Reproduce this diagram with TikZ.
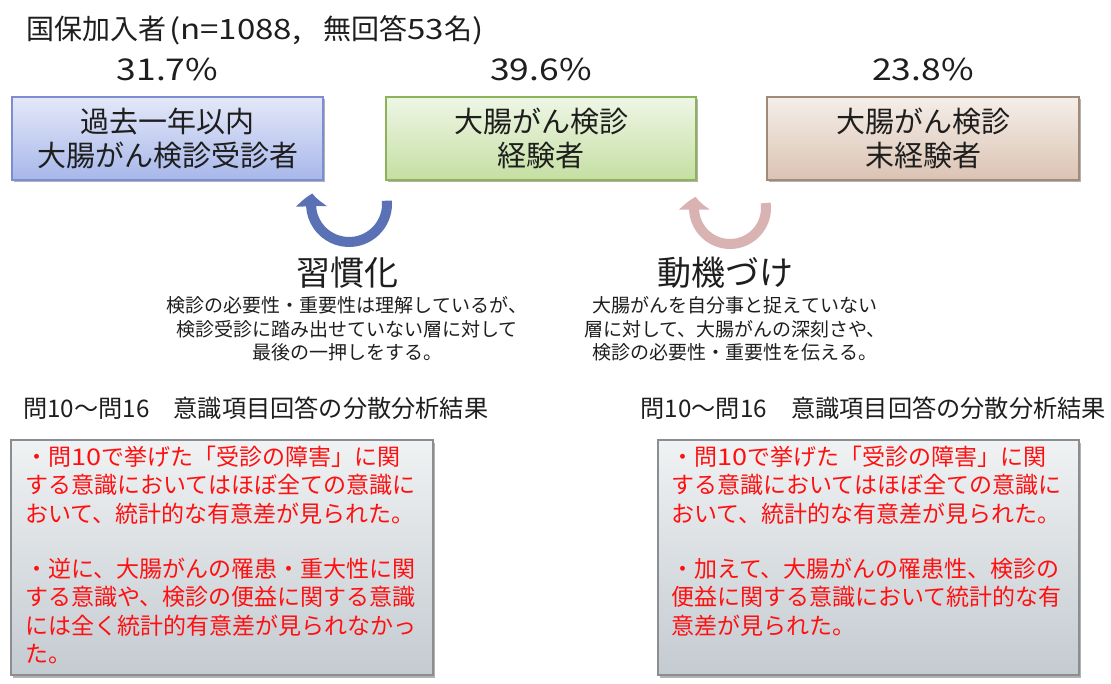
\documentclass[tikz,border=0pt]{standalone}
\usepackage{fontspec}
\setmainfont{Noto Sans CJK JP}
\newfontfamily\widefont[FakeStretch=1.18]{Noto Sans CJK JP}
\usetikzlibrary{arrows.meta,bending,shadows,calc}
\definecolor{ink}{HTML}{1E1E1E}
\definecolor{aT}{HTML}{E4E8F8}
\definecolor{aB}{HTML}{A7B7EA}
\definecolor{aD}{HTML}{7C8ED0}
\definecolor{bT}{HTML}{EEF6E6}
\definecolor{bB}{HTML}{C5DFA2}
\definecolor{bD}{HTML}{8DB35A}
\definecolor{cT}{HTML}{F5EEE9}
\definecolor{cB}{HTML}{DBC3B3}
\definecolor{cD}{HTML}{A08A7A}
\definecolor{gT}{HTML}{F0F2F3}
\definecolor{gB}{HTML}{C4CBD1}
\definecolor{gD}{HTML}{8A8E91}
\definecolor{arB}{HTML}{5A72B5}
\definecolor{arP}{HTML}{D9B2B2}
\definecolor{redt}{HTML}{FF1010}
\begin{document}
\begin{tikzpicture}[x=1pt,y=-1pt,
  shadowed/.style={drop shadow={shadow xshift=2pt,shadow yshift=-2.5pt,opacity=0.3,fill=black}},
  catbox/.style={draw,line width=1.3pt,minimum height=83pt,align=center,inner sep=0pt,
    font=\fontsize{29}{34}\selectfont,text=ink,shadowed},
  pct/.style={font=\widefont\fontsize{30}{34}\selectfont,text=ink,inner sep=0pt},
  ttl/.style={font=\fontsize{34}{38}\selectfont,text=ink,inner sep=0pt},
  desc/.style={font=\fontsize{19}{23.5}\selectfont,text=ink,align=center,inner sep=0pt},
  hdr/.style={font=\fontsize{24.2}{28}\selectfont,text=ink,inner sep=0pt},
  resbox/.style={draw=gD,line width=1.3pt,top color=gT,bottom color=gB,minimum height=235pt,inner sep=0pt,shadowed},
  redtext/.style={font=\fontsize{23}{28.3}\selectfont,text=redt,align=left,inner sep=0pt},
  curvarrow/.style={line width=10pt,-{Triangle[width=30pt,length=13pt,bend]}}
]
\useasboundingbox (0,0) rectangle (1111,684);

% title
\node[font=\fontsize{28}{32}\selectfont,text=ink,inner sep=0pt,anchor=west] (title) at (26,30)
  {国保加入者\hspace{3pt}{\widefont(n=1088,}\hspace{22pt}無回答{\widefont 53}名{\widefont)}};

% percentages
\node[pct] (p1) at (167.5,70) {31.7\%};
\node[pct] (p2) at (541,70) {39.6\%};
\node[pct] (p3) at (923,70) {23.8\%};

% category boxes
\node[catbox,minimum width=311pt,top color=aT,bottom color=aB,draw=aD] (c1) at (167.5,138.5) {過去一年以内\\大腸がん検診受診者};
\node[catbox,minimum width=310pt,top color=bT,bottom color=bB,draw=bD] (c2) at (541,138.5) {大腸がん検診\\経験者};
\node[catbox,minimum width=312pt,top color=cT,bottom color=cB,draw=cD] (c3) at (923,138.5) {大腸がん検診\\末経験者};

% curved arrows
\coordinate (ab) at (349,204);
\coordinate (ap) at (730,208);
\draw[curvarrow,draw=arB] ($(ab)+(-5:38)$) arc[start angle=-5,end angle=196,radius=38];
\draw[curvarrow,draw=arP] ($(ap)+(-8:36)$) arc[start angle=-8,end angle=198,radius=36];

% labels
\node[ttl] (h1) at (347,273) {習慣化};
\node[ttl] (h2) at (725,273) {動機づけ};
\node[desc] (d1) at (347,329) {検診の必要性・重要性は理解しているが、\\検診受診に踏み出せていない層に対して\\最後の一押しをする。};
\node[desc] (d2) at (735,329) {大腸がんを自分事と捉えていない\\層に対して、大腸がんの深刻さや、\\検診の必要性・重要性を伝える。};

% headers
\node[hdr,anchor=west] (q1) at (23,408) {問10〜問16　意識項目回答の分散分析結果};
\node[hdr,anchor=east] (q2) at (1106,408) {問10〜問16　意識項目回答の分散分析結果};

% result boxes
\node[resbox,minimum width=422pt] (r1) at (222,557.5) {};
\node[resbox,minimum width=421pt] (r2) at (868.5,557.5) {};

\node[redtext,anchor=north west] (t1) at (25,446)
  {・問{\widefont 10}で挙げた「受診の障害」に関\\する意識においてはほぼ全ての意識に\\おいて、統計的な有意差が見られた。\\[27pt]・逆に、大腸がんの罹患・重大性に関\\する意識や、検診の便益に関する意識\\には全く統計的有意差が見られなかっ\\た。};
\node[redtext,anchor=north west] (t2) at (671,446)
  {・問{\widefont 10}で挙げた「受診の障害」に関\\する意識においてはほぼ全ての意識に\\おいて、統計的な有意差が見られた。\\[27pt]・加えて、大腸がんの罹患性、検診の\\便益に関する意識において統計的な有\\意差が見られた。};

% small marks at bottom edge
\fill[gray] (53,688) circle (4);
\fill[gray] (1082,688) circle (4);
\end{tikzpicture}
\end{document}
